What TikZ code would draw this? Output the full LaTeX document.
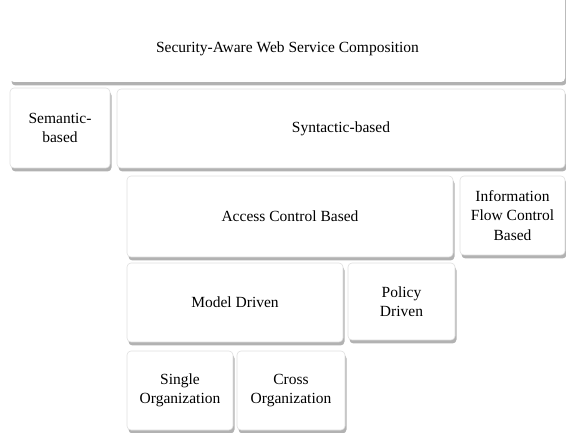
\documentclass[tikz,border=0pt]{standalone}
\usepackage{fontspec}
\setmainfont{Liberation Serif}
\usetikzlibrary{shadows}
\tikzset{
  b/.style={draw=gray!25,fill=white,rounded corners=4pt,inner sep=0pt,align=center,
    font=\fontsize{15.5}{19.5}\selectfont,
    drop shadow={shadow xshift=1.5pt,shadow yshift=-3.5pt,fill=gray!60,opacity=1}},
  every picture/.style={line width=0.6pt},
}
\begin{document}
\begin{tikzpicture}[x=1pt,y=-1pt]
\useasboundingbox (0,0) rectangle (566,433);
\node[b,draw=none,minimum width=555pt,minimum height=102pt,text height=44pt,text depth=0pt] (swsc) at (287.5,31){Security-Aware Web Service Composition};
\node[b,minimum width=100pt,minimum height=80pt] (sem) at (60,128){Semantic-\\based};
\node[b,minimum width=448pt,minimum height=79pt] (syn) at (341,128.5){Syntactic-based};
\node[b,minimum width=326pt,minimum height=81pt] (acb) at (290,216.5){Access Control Based};
\node[b,minimum width=105pt,minimum height=79pt] (ifc) at (512.5,215.5){Information\\Flow Control\\Based};
\node[b,minimum width=216pt,minimum height=79pt] (md) at (235,302.5){Model Driven};
\node[b,minimum width=107pt,minimum height=77pt] (pd) at (401.5,301.5){Policy\\Driven};
\node[b,minimum width=106pt,minimum height=79pt] (so) at (180,390.5){Single\\Organization};
\node[b,minimum width=108pt,minimum height=79pt] (co) at (291,390.5){Cross\\Organization};
\end{tikzpicture}
\end{document}
